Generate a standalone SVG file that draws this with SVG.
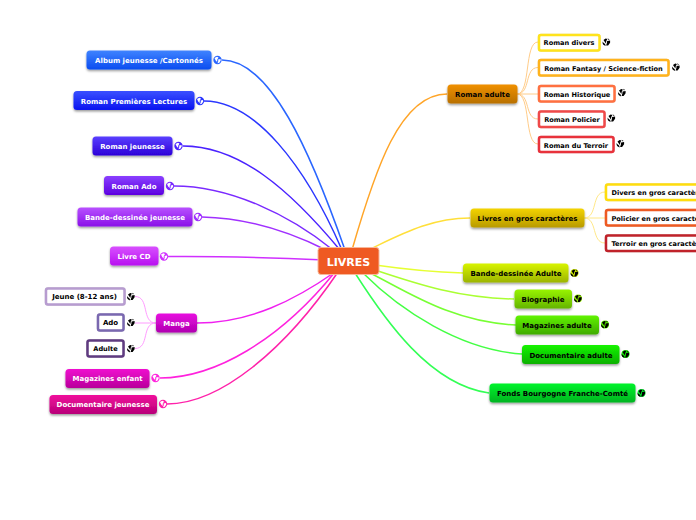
<svg xmlns="http://www.w3.org/2000/svg" width="696" height="520" viewBox="0 0 696 520">
<style>
text{font-family:"DejaVu Sans","Liberation Sans",sans-serif;font-weight:bold;font-size:7px;text-anchor:middle}
.w{fill:#fff}.k{fill:#000}
text.s{font-size:6.600px}
.n{filter:url(#s)}
.c{fill:#fff;stroke-width:2.5;filter:url(#s2)}
#connectors path{fill:none;stroke-width:1.5}
#connectors path.t{stroke-width:1}
</style>
<defs>
<filter id="s" x="-10%" y="-20%" width="120%" height="150%"><feDropShadow dx="0" dy="1.5" stdDeviation="1" flood-color="#000" flood-opacity=".4"/></filter>
<filter id="s2" x="-10%" y="-20%" width="120%" height="150%"><feDropShadow dx="0" dy="0" stdDeviation=".6" flood-color="#000" flood-opacity=".25"/></filter>
<linearGradient id="g1" x1="0" y1="0" x2="0" y2="1"><stop offset="0" stop-color="#3f83ff"/><stop offset="1" stop-color="#0a4cf0"/></linearGradient>
<linearGradient id="g2" x1="0" y1="0" x2="0" y2="1"><stop offset="0" stop-color="#3a50ff"/><stop offset="1" stop-color="#0a14f0"/></linearGradient>
<linearGradient id="g3" x1="0" y1="0" x2="0" y2="1"><stop offset="0" stop-color="#5a40ff"/><stop offset="1" stop-color="#2c00d8"/></linearGradient>
<linearGradient id="g4" x1="0" y1="0" x2="0" y2="1"><stop offset="0" stop-color="#8a40ff"/><stop offset="1" stop-color="#5c00e0"/></linearGradient>
<linearGradient id="g5" x1="0" y1="0" x2="0" y2="1"><stop offset="0" stop-color="#b850ff"/><stop offset="1" stop-color="#8a10e8"/></linearGradient>
<linearGradient id="g6" x1="0" y1="0" x2="0" y2="1"><stop offset="0" stop-color="#d850ff"/><stop offset="1" stop-color="#b810f0"/></linearGradient>
<linearGradient id="g7" x1="0" y1="0" x2="0" y2="1"><stop offset="0" stop-color="#e810e0"/><stop offset="1" stop-color="#b000b0"/></linearGradient>
<linearGradient id="g8" x1="0" y1="0" x2="0" y2="1"><stop offset="0" stop-color="#f010d0"/><stop offset="1" stop-color="#b8009a"/></linearGradient>
<linearGradient id="g9" x1="0" y1="0" x2="0" y2="1"><stop offset="0" stop-color="#f0109c"/><stop offset="1" stop-color="#b80078"/></linearGradient>
<linearGradient id="g10" x1="0" y1="0" x2="0" y2="1"><stop offset="0" stop-color="#f09000"/><stop offset="1" stop-color="#b87000"/></linearGradient>
<linearGradient id="g11" x1="0" y1="0" x2="0" y2="1"><stop offset="0" stop-color="#f4d400"/><stop offset="1" stop-color="#b89a00"/></linearGradient>
<linearGradient id="g12" x1="0" y1="0" x2="0" y2="1"><stop offset="0" stop-color="#d8f400"/><stop offset="1" stop-color="#9cb400"/></linearGradient>
<linearGradient id="g13" x1="0" y1="0" x2="0" y2="1"><stop offset="0" stop-color="#98f400"/><stop offset="1" stop-color="#64b400"/></linearGradient>
<linearGradient id="g14" x1="0" y1="0" x2="0" y2="1"><stop offset="0" stop-color="#60f400"/><stop offset="1" stop-color="#40aa00"/></linearGradient>
<linearGradient id="g15" x1="0" y1="0" x2="0" y2="1"><stop offset="0" stop-color="#14f400"/><stop offset="1" stop-color="#0cb000"/></linearGradient>
<linearGradient id="g16" x1="0" y1="0" x2="0" y2="1"><stop offset="0" stop-color="#00f42c"/><stop offset="1" stop-color="#00b420"/></linearGradient>
<g id="wl"><circle r="4.200" fill="currentColor"/><path d="M-3-2-.6-3.200 1-2.400-.2-.6-.4 2-1.800.4ZM.6-.6 3-1 3.200.4 1.800 2.800 0 3.200.8 1Z" fill="#fff"/></g>
<g id="kl"><circle r="4" fill="currentColor"/><path d="M-3-2-.8-3.600.9-3-.2-1-.6 1.600-2-.4ZM.6-1 3.600-1.400 3.600.8 1.600 3.400-.4 3.600.4 1Z" fill="#000"/><path d="M-3.900-.5A4 4 0 0 0-.8 3.900L-1.400 2-3 .8ZM1-3.800 3.200-2.400 1.800-2.200Z" fill="#000"/></g>
</defs>
<rect width="696" height="520" fill="#fff"/>
<g id="connectors">
<path stroke="#2a66ff" d="M222 60C270 60 310 150 345 250"/>
<path stroke="#2a36ff" d="M204 101C255 101 305 165 342 250"/>
<path stroke="#4a22ff" d="M183 146C240 146 290 190 340 250"/>
<path stroke="#7a2aff" d="M174 186C230 186 290 215 333 250"/>
<path stroke="#a030ff" d="M202 217C250 218 290 232 326 250"/>
<path stroke="#d030ff" d="M168 256.500C220 256 280 258 325 260"/>
<path stroke="#f020f0" d="M197 323C250 323 295 300 335 272"/>
<path stroke="#ff22dd" d="M160 378C215 378 280 340 335 272"/>
<path stroke="#ff22aa" d="M167 404C220 404 285 350 338 272"/>
<path stroke="#ffa528" d="M447 94C400 94 375 170 352 250"/>
<path stroke="#ffdf3a" d="M470 218C430 218 400 235 368 250"/>
<path stroke="#e6ff33" d="M463 273C430 272 410 270 375 265"/>
<path stroke="#aaff33" d="M514 299C460 298 420 285 375 270"/>
<path stroke="#77ff33" d="M516 325C450 322 405 290 368 272"/>
<path stroke="#44ff44" d="M522 354C460 350 400 310 363 273"/>
<path stroke="#33ff55" d="M489 393C430 385 385 320 355 273"/>
<path class="t" stroke="#ffcc88" d="M517 94C531 94 524 42 538 42"/>
<path class="t" stroke="#ffcc88" d="M517 94C531 94 524 67.500 538 67.500"/>
<path class="t" stroke="#ffcc88" d="M517 94H538"/>
<path class="t" stroke="#ffcc88" d="M517 94C531 94 524 119 538 119"/>
<path class="t" stroke="#ffcc88" d="M517 94C531 94 524 144 538 144"/>
<path class="t" stroke="#ffe888" d="M584 218C598 218 591 192 605 192"/>
<path class="t" stroke="#ffe888" d="M584 218H605"/>
<path class="t" stroke="#ffe888" d="M584 218C598 218 591 243 605 243"/>
<path class="t" stroke="#ff9cff" d="M156 323C141 323 150 296.500 135 296.500"/>
<path class="t" stroke="#ff9cff" d="M156 323H135"/>
<path class="t" stroke="#ff9cff" d="M156 323C141 323 150 348.500 135 348.500"/>
</g>
<g id="livres"><rect x="318" y="247.500" width="61" height="27" rx="3" fill="#ef5a22" stroke="#f7b89a" stroke-width="1"/><text class="w" x="348.500" y="265.500" style="font-size:11px">LIVRES</text></g>
<g id="album"><rect class="n" x="86.500" y="50.500" width="125" height="19" rx="3.500" fill="url(#g1)"/><text class="w" x="149" y="63">Album jeunesse /Cartonnés</text><use href="#wl" x="217.500" y="60" color="#2a66ff"/></g>
<g id="premieres"><rect class="n" x="73.500" y="91" width="121" height="19" rx="3.500" fill="url(#g2)"/><text class="w" x="134" y="103.500">Roman Premières Lectures</text><use href="#wl" x="200" y="101" color="#2a36ff"/></g>
<g id="rjeunesse"><rect class="n" x="92.500" y="136.500" width="80" height="19" rx="3.500" fill="url(#g3)"/><text class="w" x="132.500" y="148.500">Roman jeunesse</text><use href="#wl" x="178.500" y="146" color="#4a22ff"/></g>
<g id="rado"><rect class="n" x="104" y="176" width="60" height="19" rx="3.500" fill="url(#g4)"/><text class="w" x="134" y="188.500">Roman Ado</text><use href="#wl" x="170" y="186" color="#7a2aff"/></g>
<g id="bdj"><rect class="n" x="77.500" y="207.500" width="115" height="19" rx="3.500" fill="url(#g5)"/><text class="w" x="135" y="220">Bande-dessinée jeunesse</text><use href="#wl" x="198" y="217" color="#a030ff"/></g>
<g id="cd"><rect class="n" x="110" y="246.500" width="48.500" height="19" rx="3.500" fill="url(#g6)"/><text class="w" x="134" y="259">Livre CD</text><use href="#wl" x="164" y="256.500" color="#d030ff"/></g>
<g id="manga"><rect class="n" x="156" y="313.500" width="41" height="19" rx="3.500" fill="url(#g7)"/><text class="w" x="176.500" y="325.500">Manga</text></g>
<g id="m1"><rect class="c" x="46" y="288.500" width="78.500" height="16" rx="2" stroke="#b79cd0"/><text class="k" x="84.500" y="299">Jeune (8-12 ans)</text><use href="#kl" x="131" y="296.500" color="#fff"/></g>
<g id="m2"><rect class="c" x="98" y="314.500" width="25.500" height="16" rx="2" stroke="#7a68b0"/><text class="k" x="110.500" y="325">Ado</text><use href="#kl" x="131" y="322.500" color="#fff"/></g>
<g id="m3"><rect class="c" x="87.500" y="340.500" width="36" height="16" rx="2" stroke="#5f3a80"/><text class="k s" x="105.500" y="351">Adulte</text><use href="#kl" x="131" y="348.500" color="#fff"/></g>
<g id="menf"><rect class="n" x="65.500" y="369" width="84" height="19" rx="3.500" fill="url(#g8)"/><text class="w" x="107.500" y="381">Magazines enfant</text><use href="#wl" x="155.500" y="378" color="#ff22dd"/></g>
<g id="docj"><rect class="n" x="49.500" y="395" width="107.500" height="19" rx="3.500" fill="url(#g9)"/><text class="w" x="103" y="407">Documentaire jeunesse</text><use href="#wl" x="163" y="404" color="#ff22aa"/></g>
<g id="radulte"><rect class="n" x="447.500" y="84.500" width="70" height="19" rx="3.500" fill="url(#g10)"/><text class="k" x="482.500" y="96.500">Roman adulte</text></g>
<g id="r1"><rect class="c" x="539" y="35" width="60.500" height="15.500" rx="2" stroke="#ffe31a"/><text class="k s" x="569" y="45">Roman divers</text><use href="#kl" x="606.500" y="42" color="#fff"/></g>
<g id="r2"><rect class="c" x="539" y="60" width="129.500" height="15.500" rx="2" stroke="#ffb31a"/><text class="k s" x="603.500" y="70.500">Roman Fantasy / Science-fiction</text><use href="#kl" x="676" y="67" color="#fff"/></g>
<g id="r3"><rect class="c" x="539" y="86" width="75.500" height="15.500" rx="2" stroke="#ff7040"/><text class="k s" x="577" y="96.500">Roman Historique</text><use href="#kl" x="622" y="92.500" color="#fff"/></g>
<g id="r4"><rect class="c" x="539" y="111.500" width="65.500" height="15.500" rx="2" stroke="#f04a4a"/><text class="k s" x="572" y="122">Roman Policier</text><use href="#kl" x="611.500" y="118" color="#fff"/></g>
<g id="r5"><rect class="c" x="539" y="137" width="74.500" height="15" rx="2" stroke="#e8303a"/><text class="k s" x="576" y="147.500">Roman du Terroir</text><use href="#kl" x="620.500" y="143.500" color="#fff"/></g>
<g id="gros"><rect class="n" x="470.500" y="208.500" width="114" height="19" rx="3.500" fill="url(#g11)"/><text class="k" x="527.500" y="220.500">Livres en gros caractères</text></g>
<g id="g1n"><rect class="c" x="606" y="184.500" width="110" height="15.500" rx="2" stroke="#ffdd11"/><text class="k s" x="611.500" y="194.500" style="text-anchor:start">Divers en gros caractères</text></g>
<g id="g2n"><rect class="c" x="606" y="210" width="110" height="15.500" rx="2" stroke="#ee5a22"/><text class="k s" x="611.500" y="220.500" style="text-anchor:start">Policier en gros caractères</text></g>
<g id="g3n"><rect class="c" x="606" y="235.500" width="110" height="15.500" rx="2" stroke="#c0242a"/><text class="k s" x="611.500" y="245.500" style="text-anchor:start">Terroir en gros caractères</text></g>
<g id="bda"><rect class="n" x="463" y="263.500" width="105.500" height="19" rx="3.500" fill="url(#g12)"/><text class="k" x="516" y="275.500">Bande-dessinée Adulte</text><use href="#kl" x="574.500" y="273" color="#d4f000"/></g>
<g id="bio"><rect class="n" x="514.500" y="289.500" width="57.500" height="19" rx="3.500" fill="url(#g13)"/><text class="k" x="543" y="301.500">Biographie</text><use href="#kl" x="578" y="298.500" color="#94f000"/></g>
<g id="maga"><rect class="n" x="515.500" y="315.500" width="83.500" height="19" rx="3.500" fill="url(#g14)"/><text class="k" x="557" y="327.500">Magazines adulte</text><use href="#kl" x="605" y="324.500" color="#5cf000"/></g>
<g id="doca"><rect class="n" x="522" y="345" width="97.500" height="19" rx="3.500" fill="url(#g15)"/><text class="k" x="571" y="357.500">Documentaire adulte</text><use href="#kl" x="625.500" y="354" color="#14f000"/></g>
<g id="fonds"><rect class="n" x="489.500" y="383.500" width="146" height="19" rx="3.500" fill="url(#g16)"/><text class="k" x="562.500" y="395.500">Fonds Bourgogne Franche-Comté</text><use href="#kl" x="641.500" y="393" color="#00f02c"/></g>
</svg>
